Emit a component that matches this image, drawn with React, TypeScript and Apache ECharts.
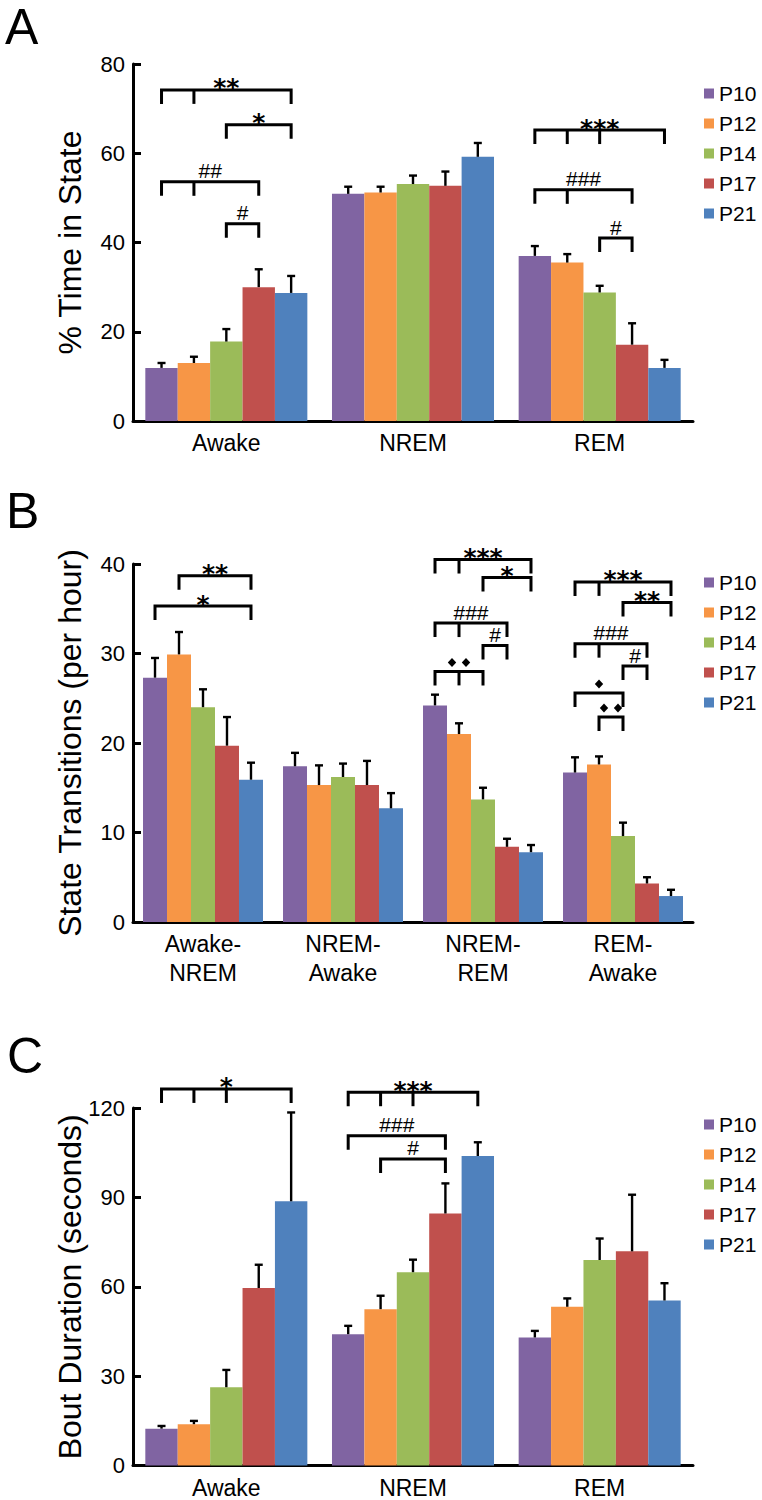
import React, { useEffect, useRef } from "react";
import * as echarts from "echarts";

// ---------- data ----------
const groups = ["P10", "P12", "P14", "P17", "P21"];

// Panel A: % Time in State
const catsA = ["Awake", "NREM", "REM"];
const ticksA = [0, 20, 40, 60, 80];
const aP10 = [11.9, 50.9, 37.0];
const aP12 = [13.0, 51.2, 35.5];
const aP14 = [17.8, 53.1, 28.8];
const aP17 = [30.0, 52.7, 17.1];
const aP21 = [28.7, 59.2, 11.9];
const aErrP10 = [1.1, 1.6, 2.2];
const aErrP12 = [1.4, 1.3, 1.9];
const aErrP14 = [2.8, 1.9, 1.5];
const aErrP17 = [4.0, 3.2, 4.8];
const aErrP21 = [3.8, 3.1, 1.8];

// Panel B: State Transitions (per hour)
const catsB = ["Awake-\nNREM", "NREM-\nAwake", "NREM-\nREM", "REM-\nAwake"];
const ticksB = [0, 10, 20, 30, 40];
const bP10 = [27.3, 17.4, 24.2, 16.7];
const bP12 = [29.9, 15.3, 21.0, 17.6];
const bP14 = [24.0, 16.2, 13.7, 9.6];
const bP17 = [19.7, 15.3, 8.4, 4.3];
const bP21 = [15.9, 12.7, 7.8, 2.9];
const bErrP10 = [2.2, 1.5, 1.2, 1.7];
const bErrP12 = [2.5, 2.2, 1.2, 0.9];
const bErrP14 = [2.0, 1.5, 1.3, 1.5];
const bErrP17 = [3.2, 2.7, 0.9, 0.7];
const bErrP21 = [1.9, 1.7, 0.8, 0.7];

// Panel C: Bout Duration (seconds)
const catsC = ["Awake", "NREM", "REM"];
const ticksC = [0, 30, 60, 90, 120];
const cP10 = [12.4, 44.1, 43.0];
const cP12 = [13.9, 52.5, 53.3];
const cP14 = [26.3, 64.9, 69.0];
const cP17 = [59.6, 84.6, 71.9];
const cP21 = [88.7, 103.9, 55.4];
const cErrP10 = [0.9, 2.8, 2.2];
const cErrP12 = [1.1, 4.5, 2.8];
const cErrP14 = [5.8, 4.2, 7.2];
const cErrP17 = [7.8, 10.1, 19.0];
const cErrP21 = [29.8, 4.6, 5.8];

// significance brackets: category, bars with ticks (0=P10..4=P21), level (data units), label
const bracketsA = [
  { cat: 0, ticks: [0, 1, 4], level: 74.2, label: "**" },
  { cat: 0, ticks: [2, 4], level: 66.4, label: "*" },
  { cat: 0, ticks: [0, 1, 3], level: 53.6, label: "##" },
  { cat: 0, ticks: [2, 3], level: 44.2, label: "#" },
  { cat: 2, ticks: [0, 1, 2, 4], level: 65.2, label: "***" },
  { cat: 2, ticks: [0, 1, 3], level: 51.8, label: "###" },
  { cat: 2, ticks: [2, 3], level: 41.0, label: "#" },
];
const bracketsB = [
  { cat: 0, ticks: [1, 4], level: 38.7, label: "**" },
  { cat: 0, ticks: [0, 4], level: 35.3, label: "*" },
  { cat: 2, ticks: [0, 1, 4], level: 40.5, label: "***" },
  { cat: 2, ticks: [2, 4], level: 38.5, label: "*" },
  { cat: 2, ticks: [0, 1, 3], level: 33.4, label: "###" },
  { cat: 2, ticks: [2, 3], level: 30.9, label: "#" },
  { cat: 2, ticks: [0, 1, 2], level: 28.0, label: "◆◆" },
  { cat: 3, ticks: [0, 1, 4], level: 38.0, label: "***" },
  { cat: 3, ticks: [2, 4], level: 35.7, label: "**" },
  { cat: 3, ticks: [0, 1, 3], level: 31.1, label: "###" },
  { cat: 3, ticks: [2, 3], level: 28.6, label: "#" },
  { cat: 3, ticks: [0, 2], level: 25.6, label: "◆" },
  { cat: 3, ticks: [1, 2], level: 22.9, label: "◆◆" },
];
const bracketsC = [
  { cat: 0, ticks: [0, 1, 2, 4], level: 126.4, label: "*" },
  { cat: 1, ticks: [0, 1, 2, 4], level: 125.3, label: "***" },
  { cat: 1, ticks: [0, 3], level: 110.7, label: "###" },
  { cat: 1, ticks: [1, 3], level: 102.9, label: "#" },
];

// ---------- styling ----------
const COLORS = ["#8064A2", "#F79646", "#9BBB59", "#C0504D", "#4F81BD"];
const FONT = '"Liberation Sans", Arial, sans-serif';
const SYMFONT = '"DejaVu Sans", sans-serif';

type Bracket = { cat: number; ticks: number[]; level: number; label: string };

function buildPanel(
  idx: number,
  cats: string[],
  means: number[][],
  errs: number[][],
  brackets: Bracket[],
  ticks: number[],
  gapFrac: number,
  yName: string,
  top: number,
  height: number,
  legendTop: number,
  labelMargin: number,
  labelLineHeight: number
) {
  const grid = { left: 133, top, width: 560, height, containLabel: false };
  const xAxis = {
    type: "category",
    gridIndex: idx,
    data: cats,
    axisLine: { show: true, lineStyle: { color: "#000", width: 3 } },
    axisTick: { show: false },
    axisLabel: {
      interval: 0,
      color: "#000",
      fontSize: 23,
      fontFamily: FONT,
      margin: labelMargin,
      lineHeight: labelLineHeight,
    },
  };
  const yAxis = {
    type: "value",
    gridIndex: idx,
    min: ticks[0],
    max: ticks[ticks.length - 1],
    interval: ticks[1] - ticks[0],
    name: yName,
    nameLocation: "middle",
    nameGap: 47,
    nameMoveOverlap: false,
    nameTextStyle: { color: "#000", fontSize: 32, fontFamily: FONT },
    axisLine: { show: true, lineStyle: { color: "#000", width: 3 } },
    axisTick: { show: true, inside: true, length: 8, lineStyle: { color: "#000", width: 3 } },
    axisLabel: { color: "#000", fontSize: 22, fontFamily: FONT, margin: 8 },
    splitLine: { show: false },
  };
  const series: any[] = groups.map((g, s) => ({
    type: "bar",
    name: g,
    xAxisIndex: idx,
    yAxisIndex: idx,
    data: means[s],
    barGap: "0%",
    barCategoryGap: gapFrac * 100 + "%",
    itemStyle: { color: COLORS[s] },
    emphasis: { disabled: true },
  }));

  const barX = (api: any, cat: number, s: number) => {
    const c = api.coord([cat, 0]);
    const band = api.size([1, 0])[0];
    const total = band * (1 - gapFrac);
    return c[0] - total / 2 + (s + 0.5) * (total / 5);
  };

  const errData: number[][] = [];
  groups.forEach((_, s) => {
    cats.forEach((__, c) => {
      errData.push([c, s, means[s][c], means[s][c] + errs[s][c]]);
    });
  });
  series.push({
    type: "custom",
    name: "err" + idx,
    xAxisIndex: idx,
    yAxisIndex: idx,
    z: 5,
    silent: true,
    clip: false,
    encode: { x: 0, y: 3 },
    data: errData,
    renderItem: (params: any, api: any) => {
      const cat = api.value(0);
      const s = api.value(1);
      const x = barX(api, cat, s);
      const y0 = api.coord([cat, api.value(2)])[1];
      const y1 = api.coord([cat, api.value(3)])[1];
      const st = { stroke: "#000", lineWidth: 2.4 };
      return {
        type: "group",
        children: [
          { type: "line", shape: { x1: x, y1: y0, x2: x, y2: y1 }, style: st },
          { type: "line", shape: { x1: x - 4, y1: y1, x2: x + 4, y2: y1 }, style: st },
        ],
      };
    },
  });

  series.push({
    type: "custom",
    name: "sig" + idx,
    xAxisIndex: idx,
    yAxisIndex: idx,
    z: 6,
    silent: true,
    clip: false,
    encode: { x: 0, y: 1 },
    data: brackets.map((b) => [b.cat, b.level]),
    renderItem: (params: any, api: any) => {
      const b = brackets[params.dataIndex];
      const L = api.coord([b.cat, b.level])[1];
      const xs = b.ticks.map((t) => barX(api, b.cat, t));
      const x0 = Math.min(...xs);
      const x1 = Math.max(...xs);
      const tl = 14;
      const st = { stroke: "#000", lineWidth: 3, fill: "none", lineJoin: "miter" };
      const children: any[] = [
        {
          type: "polyline",
          shape: { points: [[x0, L + tl], [x0, L], [x1, L], [x1, L + tl]] },
          style: st,
        },
      ];
      xs.forEach((x) => {
        if (x !== x0 && x !== x1) {
          children.push({ type: "line", shape: { x1: x, y1: L, x2: x, y2: L + tl }, style: st });
        }
      });
      const mid = (x0 + x1) / 2;
      if (b.label.indexOf("◆") >= 0) {
        const n = b.label.length;
        const cy = L - 9;
        for (let i = 0; i < n; i++) {
          const cx = mid + (i - (n - 1) / 2) * 14;
          children.push({
            type: "polygon",
            shape: { points: [[cx, cy - 4.5], [cx + 4.2, cy], [cx, cy + 4.5], [cx - 4.2, cy]] },
            style: { fill: "#000" },
          });
        }
      } else if (b.label.indexOf("*") >= 0) {
        children.push({
          type: "text",
          x: mid,
          y: L - 2,
          style: {
            text: b.label,
            fill: "#000",
            font: "bold 25px " + SYMFONT,
            textAlign: "center",
            textVerticalAlign: "middle",
            align: "center",
            verticalAlign: "middle",
          },
        });
      } else {
        children.push({
          type: "text",
          x: mid,
          y: L - 11,
          style: {
            text: b.label,
            fill: "#000",
            font: "21px " + FONT,
            textAlign: "center",
            textVerticalAlign: "middle",
            align: "center",
            verticalAlign: "middle",
          },
        });
      }
      return { type: "group", children };
    },
  });

  const legend = {
    show: true,
    data: groups,
    orient: "vertical",
    left: 704,
    top: legendTop,
    padding: 0,
    itemWidth: 10,
    itemHeight: 10,
    itemGap: 9,
    icon: "rect",
    selectedMode: false,
    textStyle: { color: "#000", fontSize: 21, fontFamily: FONT },
  };

  return { grid, xAxis, yAxis, series, legend };
}

export default function App() {
  const ref = useRef<HTMLDivElement>(null);
  useEffect(() => {
    if (!ref.current) return;
    const chart = echarts.init(ref.current, undefined, { renderer: "svg" });
    const pA = buildPanel(
      0,
      catsA,
      [aP10, aP12, aP14, aP17, aP21],
      [aErrP10, aErrP12, aErrP14, aErrP17, aErrP21],
      bracketsA,
      ticksA,
      0.132,
      "% Time in State",
      64,
      357,
      83,
      10,
      24
    );
    const pB = buildPanel(
      1,
      catsB,
      [bP10, bP12, bP14, bP17, bP21],
      [bErrP10, bErrP12, bErrP14, bErrP17, bErrP21],
      bracketsB,
      ticksB,
      0.143,
      "State Transitions (per hour)",
      564,
      358,
      572,
      7,
      29
    );
    const pC = buildPanel(
      2,
      catsC,
      [cP10, cP12, cP14, cP17, cP21],
      [cErrP10, cErrP12, cErrP14, cErrP17, cErrP21],
      bracketsC,
      ticksC,
      0.132,
      "Bout Duration (seconds)",
      1108,
      357.6,
      1114,
      10,
      24
    );
    const panels = [pA, pB, pC];
    const letter = (t: string, x: number, y: number) => ({
      type: "text",
      x,
      y,
      style: {
        text: t,
        fill: "#000",
        font: "50px " + FONT,
        textVerticalAlign: "middle",
        verticalAlign: "middle",
      },
    });
    chart.setOption({
      animation: false,
      backgroundColor: "#fff",
      grid: panels.map((p) => p.grid),
      xAxis: panels.map((p) => p.xAxis),
      yAxis: panels.map((p) => p.yAxis),
      legend: panels.map((p) => p.legend),
      series: panels.flatMap((p) => p.series),
      graphic: [letter("A", 5, 27), letter("B", 6, 511), letter("C", 7, 1056)],
    });
    return () => chart.dispose();
  }, []);
  return (
    <div
      ref={ref}
      style={{ position: "absolute", left: 0, top: 0, width: 762, height: 1500 }}
    />
  );
}
